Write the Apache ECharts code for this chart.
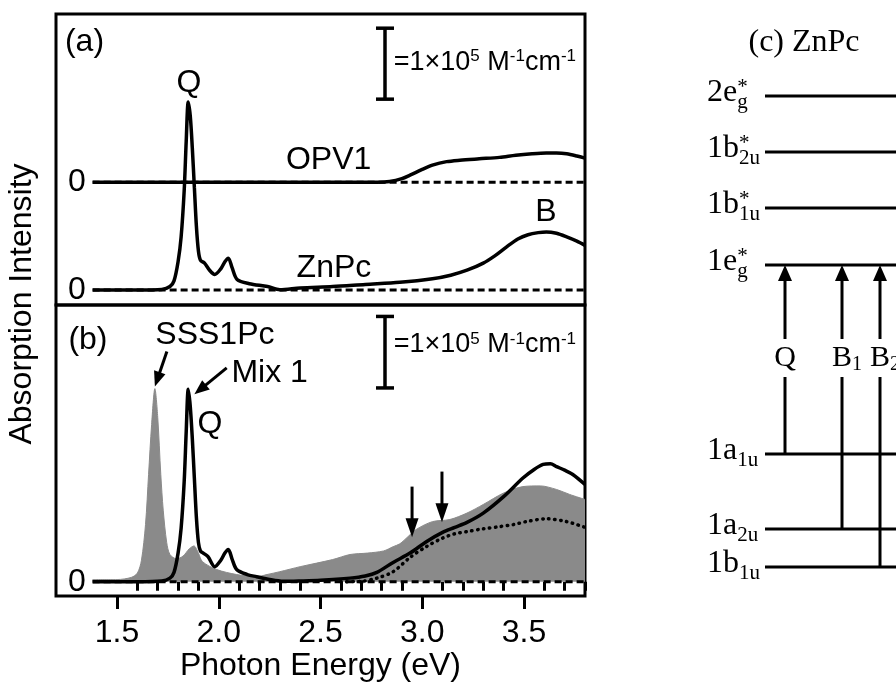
<!DOCTYPE html>
<html>
<head>
<meta charset="utf-8">
<script src="https://cdn.jsdelivr.net/npm/echarts@6/dist/echarts.min.js"></script>
<style>
  html, body { margin: 0; padding: 0; background: #fff; }
  #chart { width: 896px; height: 684px; }
</style>
</head>
<body>
<div id="chart"></div>
<script>
// photon energy axis (eV)
const majorTicks = [1.5, 2.0, 2.5, 3.0, 3.5];
const minorTicks = [1.6, 1.7, 1.8, 1.9, 2.1, 2.2, 2.3, 2.4, 2.6, 2.7, 2.8, 2.9, 3.1, 3.2, 3.3, 3.4, 3.6, 3.7, 3.8];

// (a) absorption, units of 1e4 M^-1 cm^-1
const znpcE = [1.38, 1.60, 1.72, 1.76, 1.78, 1.80, 1.815, 1.83, 1.84, 1.85, 1.86, 1.87, 1.88, 1.89, 1.90, 1.91, 1.93, 1.955, 1.98, 2.01, 2.03, 2.047, 2.065, 2.09, 2.15, 2.24, 2.30, 2.40, 2.56, 2.72, 2.89, 3.05, 3.14, 3.22, 3.30, 3.36, 3.415, 3.47, 3.52, 3.57, 3.61, 3.66, 3.71, 3.76, 3.80];
const znpcY = [0, 0, 0.1, 0.5, 1.3, 4.0, 7.5, 14, 21, 26.5, 24.5, 20, 14.5, 9, 5.5, 4.2, 3.8, 2.8, 2.2, 3.0, 4.0, 4.5, 3.2, 1.5, 0.9, 0.5, 0.05, 0.3, 0.5, 0.8, 1.1, 1.6, 2.1, 2.8, 3.8, 4.9, 6.1, 7.2, 7.8, 8.1, 8.2, 8.0, 7.5, 6.9, 6.3];
const opvE = [1.38, 2.78, 2.84, 2.90, 2.94, 3.00, 3.05, 3.12, 3.185, 3.28, 3.38, 3.46, 3.54, 3.61, 3.66, 3.71, 3.76, 3.80];
const opvY = [0, 0, 0.1, 0.5, 1.0, 1.8, 2.4, 2.9, 3.1, 3.3, 3.5, 3.8, 4.0, 4.1, 4.1, 4.0, 3.7, 3.4];
const opvOffset = 15.2;

// (b)
const sssE = [1.38, 1.50, 1.57, 1.60, 1.62, 1.64, 1.655, 1.67, 1.686, 1.70, 1.715, 1.727, 1.744, 1.76, 1.793, 1.825, 1.855, 1.878, 1.90, 1.92, 1.99, 2.088, 2.186, 2.237, 2.30, 2.40, 2.56, 2.645, 2.73, 2.81, 2.857, 2.89, 2.93, 2.97, 3.05, 3.136, 3.22, 3.30, 3.40, 3.495, 3.58, 3.66, 3.725, 3.80];
const sssY = [0.3, 0.3, 0.6, 1.2, 3.0, 8.0, 15, 22, 27.0, 23, 15, 10, 5.5, 3.8, 3.2, 3.6, 4.6, 5.0, 4.0, 2.8, 1.7, 1.0, 0.7, 1.0, 1.4, 2.1, 3.1, 3.8, 4.0, 4.3, 4.9, 5.3, 6.3, 7.3, 8.4, 8.7, 9.6, 10.8, 12.4, 13.3, 13.4, 12.9, 12.2, 11.5];
const mixE = [1.38, 1.60, 1.72, 1.76, 1.78, 1.80, 1.815, 1.83, 1.84, 1.85, 1.86, 1.87, 1.88, 1.89, 1.90, 1.91, 1.924, 1.947, 1.98, 2.01, 2.03, 2.047, 2.065, 2.088, 2.14, 2.186, 2.25, 2.317, 2.40, 2.50, 2.645, 2.72, 2.777, 2.857, 2.94, 3.02, 3.10, 3.16, 3.22, 3.30, 3.40, 3.495, 3.55, 3.594, 3.63, 3.66, 3.70, 3.74, 3.80];
const mixY = [0, 0, 0.1, 0.5, 1.3, 4.0, 7.5, 14, 21, 26.9, 24.5, 20, 14.5, 9, 5.5, 4.3, 4.0, 3.5, 2.1, 3.0, 4.0, 4.5, 3.2, 1.7, 1.0, 0.7, 0.3, 0.05, 0.1, 0.2, 0.5, 0.8, 1.3, 2.7, 4.0, 5.6, 6.9, 7.6, 8.3, 9.6, 11.9, 14.5, 15.7, 16.4, 16.5, 16.1, 15.6, 15.0, 13.6];
const dotE = [2.60, 2.70, 2.777, 2.857, 2.94, 3.02, 3.10, 3.16, 3.22, 3.30, 3.38, 3.45, 3.51, 3.61, 3.71, 3.80];
const dotY = [0, 0.05, 0.5, 1.4, 3.4, 4.9, 6.1, 6.7, 7.0, 7.4, 7.7, 8.0, 8.4, 8.8, 8.4, 7.6];
const baseE = [1.38, 3.80];

// scale bar = 1x10^5 M^-1 cm^-1
const scaleLen = 10;

// annotations
const labelsA = ['(a)', 'Q', 'OPV1', 'ZnPc', 'B'];
const labelsAAt = [[1.34, 34.9], [1.854, 29.2], [2.54, 18.3], [2.566, 3.1], [3.608, 11.0]];
const labelsB = ['(b)', 'SSS1Pc', 'Mix 1', 'Q'];
const labelsBAt = [[1.357, 33.8], [1.981, 34.5], [2.25, 29.2], [1.957, 22.0]];
const arrowsB = [[1.745, 32.2, 1.686, 27.3], [2.039, 29.9, 1.88, 26.2], [2.95, 13.3, 2.95, 6.2], [3.097, 15.4, 3.097, 8.3]];

// (c) ZnPc level scheme
const levelMain = ['2e', '1b', '1b', '1e', '1a', '1a', '1b'];
const levelSub = ['g', '2u', '1u', 'g', '1u', '2u', '1u'];
const levelStar = [1, 1, 1, 1, 0, 0, 0];
const levelY = [47.1, 41.5, 35.9, 30.2, 11.3, 3.8, 0];
const transX = [2.0, 7.7, 11.5];
const transFrom = [4, 5, 6];
const transTo = [3, 3, 3];
const transMain = ['Q', 'B', 'B'];
const transSub = ['', '1', '2'];
const transLabelY = 20.9;

const SANS = 'Liberation Sans';
const SERIF = 'Liberation Serif';
const LW = 3.5;
const zip = (xs, ys, off) => xs.map((x, i) => [x, ys[i] + (off || 0)]);

const measure = document.createElement('canvas').getContext('2d');
function textW(t, size, fam) {
  measure.font = size + 'px "' + fam + '"';
  return measure.measureText(t).width;
}

function txt(text, x, y, size, fam, align, extra) {
  return {
    type: 'text',
    style: Object.assign({
      text: text, x: x, y: y, fill: '#000', fontSize: size, fontFamily: fam,
      align: align || 'center', verticalAlign: 'middle'
    }, extra || {})
  };
}
function seg(a, b, w) {
  return { type: 'line', shape: { x1: a[0], y1: a[1], x2: b[0], y2: b[1] }, style: { stroke: '#000', lineWidth: w || 3 } };
}
function arrow(p0, p1, headLen, headW) {
  const dx = p1[0] - p0[0], dy = p1[1] - p0[1];
  const L = Math.hypot(dx, dy), ux = dx / L, uy = dy / L;
  const bx = p1[0] - ux * headLen, by = p1[1] - uy * headLen;
  return [
    seg(p0, [bx + ux * 2, by + uy * 2]),
    { type: 'polygon', shape: { points: [[p1[0], p1[1]], [bx - uy * headW / 2, by + ux * headW / 2], [bx + uy * headW / 2, by - ux * headW / 2]] }, style: { fill: '#000' } }
  ];
}
function scaleBar(api, E, v0) {
  const a = api.coord([E, v0]), b = api.coord([E, v0 + scaleLen]);
  return [seg(a, b, 3.5), seg([a[0] - 9, a[1]], [a[0] + 9, a[1]], 3.5), seg([b[0] - 9, b[1]], [b[0] + 9, b[1]], 3.5)];
}
const scaleRich = {
  m: { fontSize: 27, lineHeight: 28, fontFamily: SANS },
  s: { fontSize: 17, lineHeight: 8, fontFamily: SANS, verticalAlign: 'top' }
};
const scaleText = '{m|=1×10}{s|5}{m| M}{s|-1}{m|cm}{s|-1}';

function renderA(params, api) {
  const kids = [];
  labelsA.forEach((t, i) => { const p = api.coord(labelsAAt[i]); kids.push(txt(t, p[0], p[1], 32, SANS)); });
  scaleBar(api, 2.817, 26.9).forEach(e => kids.push(e));
  const p = api.coord([2.86, 32.1]);
  kids.push(txt(scaleText, p[0], p[1], 27, SANS, 'left', { rich: scaleRich }));
  return { type: 'group', children: kids };
}
function renderB(params, api) {
  const kids = [];
  labelsB.forEach((t, i) => { const p = api.coord(labelsBAt[i]); kids.push(txt(t, p[0], p[1], 32, SANS)); });
  arrowsB.forEach((a, i) => {
    const vertical = a[0] === a[2];
    arrow(api.coord([a[0], a[1]]), api.coord([a[2], a[3]]), vertical ? 19 : 15, vertical ? 13 : 12).forEach(e => kids.push(e));
  });
  scaleBar(api, 2.817, 27.1).forEach(e => kids.push(e));
  const p = api.coord([2.86, 33.1]);
  kids.push(txt(scaleText, p[0], p[1], 27, SANS, 'left', { rich: scaleRich }));
  return { type: 'group', children: kids };
}
function renderC(params, api) {
  const kids = [];
  levelY.forEach((y, i) => {
    const a = api.coord([0, y]), b = api.coord([16, y]);
    kids.push(seg(a, b));
    const mx = a[0] - 58;
    const w = textW(levelMain[i], 32, SERIF);
    kids.push(txt(levelMain[i], mx, a[1] - 3, 32, SERIF, 'left'));
    kids.push(txt(levelSub[i], mx + w, a[1] + 6, 21, SERIF, 'left'));
    if (levelStar[i]) kids.push(txt('*', mx + w, a[1] - 9, 21, SERIF, 'left'));
  });
  transX.forEach((x, i) => {
    const lo = api.coord([x, levelY[transFrom[i]]]);
    const g0 = api.coord([x, transLabelY - 1.9]);
    const g1 = api.coord([x, transLabelY + 1.9]);
    const hi = api.coord([x, levelY[transTo[i]]]);
    kids.push(seg(lo, g0));
    arrow(g1, hi, 16, 14).forEach(e => kids.push(e));
    const c = api.coord([x, transLabelY]);
    kids.push(txt(transMain[i], c[0], c[1], 30, SERIF));
    if (transSub[i]) {
      kids.push(txt(transSub[i], c[0] + textW(transMain[i], 30, SERIF) / 2, c[1] + 7, 20, SERIF, 'left'));
    }
  });
  return { type: 'group', children: kids };
}

const lineBase = { type: 'line', showSymbol: false, symbol: 'none', silent: true, smooth: 0.3 };
const dashed = { color: '#000', width: 3, type: [7, 4] };

const option = {
  animation: false,
  backgroundColor: '#fff',
  textStyle: { fontFamily: SANS, color: '#000' },
  grid: [
    { left: 56, top: 14, width: 529, height: 291, show: true, borderColor: '#000', borderWidth: 3, outerBoundsMode: 'none' },
    { left: 56, top: 305, width: 529, height: 291, show: true, borderColor: '#000', borderWidth: 3, outerBoundsMode: 'none' },
    { left: 765, top: 96, width: 160, height: 471, show: false, outerBoundsMode: 'none' }
  ],
  xAxis: [
    { gridIndex: 0, type: 'value', min: 1.2, max: 3.8, show: false },
    { gridIndex: 1, type: 'value', min: 1.2, max: 3.8, position: 'bottom',
      axisLine: { show: false }, splitLine: { show: false }, axisLabel: { show: false },
      axisTick: { show: true, length: 9, customValues: minorTicks, lineStyle: { color: '#000', width: 3 } } },
    { gridIndex: 1, type: 'value', min: 1.2, max: 3.8, position: 'bottom',
      axisLine: { show: false }, splitLine: { show: false },
      axisTick: { show: true, length: 13, customValues: majorTicks, lineStyle: { color: '#000', width: 3 } },
      axisLabel: { show: true, customValues: majorTicks, formatter: v => v.toFixed(1), fontSize: 32, color: '#000', margin: 21, fontFamily: SANS },
      name: 'Photon Energy (eV)', nameLocation: 'middle', nameGap: 53,
      nameTextStyle: { fontSize: 32, color: '#000', fontFamily: SANS } },
    { gridIndex: 2, type: 'value', min: 0, max: 16, show: false }
  ],
  yAxis: [
    { gridIndex: 0, type: 'value', min: -2.1, max: 38.9,
      axisLine: { show: false }, axisTick: { show: false }, splitLine: { show: false },
      axisLabel: { inside: true, margin: 12, customValues: [0, opvOffset], formatter: () => '0', fontSize: 32, color: '#000', fontFamily: SANS } },
    { gridIndex: 1, type: 'value', min: -2, max: 38.7,
      axisLine: { show: false }, axisTick: { show: false }, splitLine: { show: false },
      axisLabel: { inside: true, margin: 12, customValues: [0], formatter: () => '0', fontSize: 32, color: '#000', fontFamily: SANS } },
    { gridIndex: 2, type: 'value', min: 0, max: 47.1, show: false }
  ],
  graphic: [
    { type: 'text', x: 22, y: 304, rotation: Math.PI / 2,
      style: { text: 'Absorption Intensity', fontSize: 32, fontFamily: SANS, fill: '#000', align: 'center', verticalAlign: 'middle' } },
    { type: 'text', x: 804, y: 43,
      style: { text: '(c) ZnPc', fontSize: 32, fontFamily: SERIF, fill: '#000', align: 'center', verticalAlign: 'middle' } }
  ],
  series: [
    // panel (a)
    Object.assign({}, lineBase, { name: 'OPV1 zero', xAxisIndex: 0, yAxisIndex: 0, smooth: false, z: 2,
      data: zip(baseE, [0, 0], opvOffset), lineStyle: dashed }),
    Object.assign({}, lineBase, { name: 'ZnPc zero', xAxisIndex: 0, yAxisIndex: 0, smooth: false, z: 2,
      data: zip(baseE, [0, 0]), lineStyle: dashed }),
    Object.assign({}, lineBase, { name: 'OPV1', xAxisIndex: 0, yAxisIndex: 0, z: 3,
      data: zip(opvE, opvY, opvOffset), lineStyle: { color: '#000', width: LW } }),
    Object.assign({}, lineBase, { name: 'ZnPc', xAxisIndex: 0, yAxisIndex: 0, z: 3,
      data: zip(znpcE, znpcY), lineStyle: { color: '#000', width: LW } }),
    { type: 'custom', name: 'notes a', xAxisIndex: 0, yAxisIndex: 0, coordinateSystem: 'cartesian2d',
      silent: true, clip: false, z: 5, data: [[2, 0]], renderItem: renderA },
    // panel (b)
    Object.assign({}, lineBase, { name: 'SSS1Pc', xAxisIndex: 1, yAxisIndex: 1, z: 1,
      data: zip(sssE, sssY), lineStyle: { color: '#8a8a8a', width: 1 }, areaStyle: { color: '#8a8a8a', opacity: 1 } }),
    Object.assign({}, lineBase, { name: 'zero b', xAxisIndex: 1, yAxisIndex: 1, smooth: false, z: 2,
      data: zip(baseE, [0, 0]), lineStyle: dashed }),
    Object.assign({}, lineBase, { name: 'dotted', xAxisIndex: 1, yAxisIndex: 1, z: 3,
      data: zip(dotE, dotY), lineStyle: { color: '#000', width: 3.5, type: [0.5, 5.5], cap: 'round' } }),
    Object.assign({}, lineBase, { name: 'Mix 1', xAxisIndex: 1, yAxisIndex: 1, z: 4,
      data: zip(mixE, mixY), lineStyle: { color: '#000', width: LW } }),
    { type: 'custom', name: 'notes b', xAxisIndex: 1, yAxisIndex: 1, coordinateSystem: 'cartesian2d',
      silent: true, clip: false, z: 5, data: [[2, 0]], renderItem: renderB },
    // panel (c)
    { type: 'custom', name: 'levels', xAxisIndex: 3, yAxisIndex: 2, coordinateSystem: 'cartesian2d',
      silent: true, clip: false, z: 5, data: [[2, 0]], renderItem: renderC }
  ]
};

const chart = echarts.init(document.getElementById('chart'));
chart.setOption(option);
</script>
</body>
</html>
